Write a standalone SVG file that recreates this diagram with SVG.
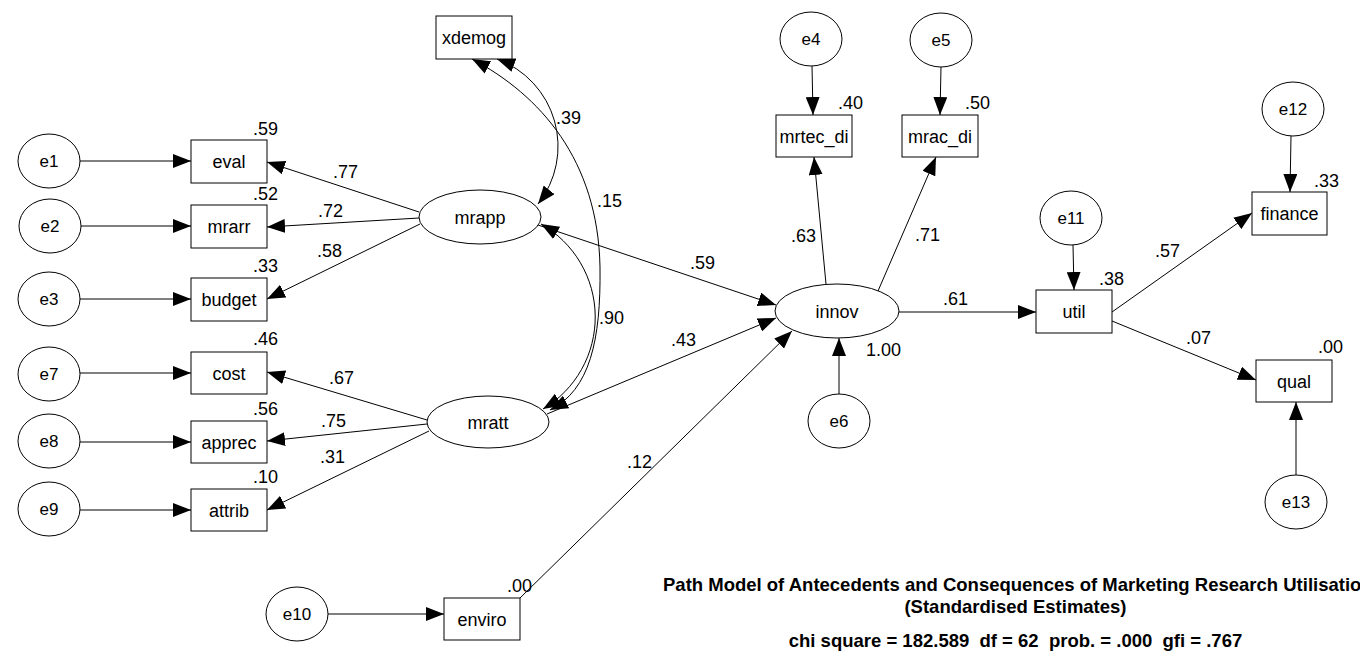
<svg xmlns="http://www.w3.org/2000/svg" width="1360" height="660" viewBox="0 0 1360 660">
<style>
  .box { fill: #fff; stroke: #000; stroke-width: 1; }
  .ell { fill: #fff; stroke: #000; stroke-width: 1; }
  .lbl { font-family: "Liberation Sans", Arial, sans-serif; font-size: 18px; fill: #000; text-anchor: middle; }
  .elbl { font-family: "Liberation Sans", Arial, sans-serif; font-size: 17px; fill: #000; text-anchor: middle; }
  .num { font-family: "Liberation Sans", Arial, sans-serif; font-size: 18px; fill: #000; }
  .title { font-family: "Liberation Sans", Arial, sans-serif; font-size: 18.5px; font-weight: bold; fill: #000; white-space: pre; }
  .con { fill: none; stroke: #000; stroke-width: 1; marker-end: url(#ah); }
  .bi { marker-start: url(#ah); }
</style>
<defs>
  <marker id="ah" viewBox="0 0 18 14" refX="18" refY="7" markerWidth="18" markerHeight="14" markerUnits="userSpaceOnUse" orient="auto-start-reverse">
    <path d="M0,0 L18,7 L0,14 z" fill="#000"/>
  </marker>
</defs>
<rect width="1360" height="660" fill="#fff"/>

<g id="connectors">
  <path class="con" d="M80,161 L191,161"/>
  <path class="con" d="M81,226 L191,226"/>
  <path class="con" d="M80,299 L191,299"/>
  <path class="con" d="M80,373 L191,373"/>
  <path class="con" d="M80,442 L191,442"/>
  <path class="con" d="M80,510 L191,510"/>
  <path class="con" d="M328,614 L444,614"/>
  <path class="con" d="M419,212 L267,162"/>
  <path class="con" d="M419,218 L267,227"/>
  <path class="con" d="M420,224 L267,299"/>
  <path class="con" d="M427,420 L267,372"/>
  <path class="con" d="M427,424 L267,441"/>
  <path class="con" d="M429,431 L267,510"/>
  <path class="con" d="M538,225 L776,305"/>
  <path class="con" d="M547,414 L776,318"/>
  <path class="con" d="M520,598 L792,331"/>
  <path class="con" d="M826,284 L814,157"/>
  <path class="con" d="M878,291 L936,157"/>
  <path class="con" d="M812,66 L813,115"/>
  <path class="con" d="M941,67 L940,115"/>
  <path class="con" d="M839,394 L839,338"/>
  <path class="con" d="M899,312 L1036,312"/>
  <path class="con" d="M1073,245 L1074,290"/>
  <path class="con" d="M1291,136 L1290,192"/>
  <path class="con" d="M1112,312 L1252,213"/>
  <path class="con" d="M1112,321 L1256,380"/>
  <path class="con" d="M1296,475 L1296,402"/>
  <path class="con bi" d="M497,59 A93,93 0 0,1 538,204"/>
  <path class="con bi" d="M472,59 C540,95 598,160 600,267 C601,340 590,390 550,410"/>
  <path class="con bi" d="M541,224 A107,107 0 0,1 543,409"/>
</g>

<g id="xdemog"><rect class="box" x="436" y="16" width="76" height="43"/><text class="lbl" x="474" y="44">xdemog</text></g>
<g id="eval"><rect class="box" x="191" y="140" width="76" height="43"/><text class="lbl" x="229" y="168">eval</text></g>
<g id="mrarr"><rect class="box" x="191" y="205" width="76" height="43"/><text class="lbl" x="229" y="233">mrarr</text></g>
<g id="budget"><rect class="box" x="191" y="278" width="76" height="43"/><text class="lbl" x="229" y="306">budget</text></g>
<g id="cost"><rect class="box" x="191" y="352" width="76" height="42"/><text class="lbl" x="229" y="380">cost</text></g>
<g id="apprec"><rect class="box" x="191" y="421" width="76" height="42"/><text class="lbl" x="229" y="449">apprec</text></g>
<g id="attrib"><rect class="box" x="191" y="489" width="76" height="42"/><text class="lbl" x="229" y="517">attrib</text></g>
<g id="enviro"><rect class="box" x="444" y="598" width="76" height="42"/><text class="lbl" x="482" y="626">enviro</text></g>
<g id="mrtec_di"><rect class="box" x="776" y="115" width="76" height="42"/><text class="lbl" x="814" y="143">mrtec_di</text></g>
<g id="mrac_di"><rect class="box" x="902" y="115" width="76" height="42"/><text class="lbl" x="940" y="143">mrac_di</text></g>
<g id="util"><rect class="box" x="1036" y="290" width="76" height="43"/><text class="lbl" x="1074" y="318">util</text></g>
<g id="finance"><rect class="box" x="1252" y="192" width="75" height="43"/><text class="lbl" x="1289.5" y="220">finance</text></g>
<g id="qual"><rect class="box" x="1256" y="360" width="76" height="42"/><text class="lbl" x="1294" y="388">qual</text></g>

<g id="e1"><ellipse class="ell" cx="49" cy="161" rx="31" ry="27"/><text class="elbl" x="49" y="167">e1</text></g>
<g id="e2"><ellipse class="ell" cx="50" cy="226" rx="31" ry="27"/><text class="elbl" x="50" y="232">e2</text></g>
<g id="e3"><ellipse class="ell" cx="49" cy="299" rx="31" ry="27"/><text class="elbl" x="49" y="305">e3</text></g>
<g id="e7"><ellipse class="ell" cx="49" cy="374" rx="31" ry="27"/><text class="elbl" x="49" y="380">e7</text></g>
<g id="e8"><ellipse class="ell" cx="49" cy="441" rx="31" ry="27"/><text class="elbl" x="49" y="447">e8</text></g>
<g id="e9"><ellipse class="ell" cx="49" cy="509" rx="31" ry="27"/><text class="elbl" x="49" y="515">e9</text></g>
<g id="e10"><ellipse class="ell" cx="297" cy="614" rx="31" ry="27"/><text class="elbl" x="297" y="620">e10</text></g>
<g id="e4"><ellipse class="ell" cx="811" cy="39" rx="31" ry="27"/><text class="elbl" x="811" y="45">e4</text></g>
<g id="e5"><ellipse class="ell" cx="941" cy="40" rx="31" ry="27"/><text class="elbl" x="941" y="46">e5</text></g>
<g id="e6"><ellipse class="ell" cx="839" cy="421" rx="31" ry="27"/><text class="elbl" x="839" y="427">e6</text></g>
<g id="e11"><ellipse class="ell" cx="1071" cy="218" rx="31" ry="27"/><text class="elbl" x="1071" y="224">e11</text></g>
<g id="e12"><ellipse class="ell" cx="1293" cy="109" rx="31" ry="27"/><text class="elbl" x="1293" y="115">e12</text></g>
<g id="e13"><ellipse class="ell" cx="1296" cy="502" rx="31" ry="27"/><text class="elbl" x="1296" y="508">e13</text></g>
<g id="mrapp"><ellipse class="ell" cx="480" cy="217" rx="61" ry="27"/><text class="lbl" x="480" y="224">mrapp</text></g>
<g id="mratt"><ellipse class="ell" cx="488" cy="422" rx="61" ry="26"/><text class="lbl" x="488" y="429">mratt</text></g>
<g id="innov"><ellipse class="ell" cx="837" cy="311" rx="62" ry="27"/><text class="lbl" x="837" y="318">innov</text></g>

<g id="labels">
  <text class="num" x="253" y="135">.59</text>
  <text class="num" x="253" y="200">.52</text>
  <text class="num" x="253" y="272">.33</text>
  <text class="num" x="333" y="178">.77</text>
  <text class="num" x="318" y="217">.72</text>
  <text class="num" x="317" y="257">.58</text>
  <text class="num" x="253" y="345">.46</text>
  <text class="num" x="253" y="415">.56</text>
  <text class="num" x="253" y="483">.10</text>
  <text class="num" x="329" y="384">.67</text>
  <text class="num" x="321" y="427">.75</text>
  <text class="num" x="320" y="463">.31</text>
  <text class="num" x="507" y="592">.00</text>
  <text class="num" x="627" y="468">.12</text>
  <text class="num" x="671" y="346">.43</text>
  <text class="num" x="599" y="324">.90</text>
  <text class="num" x="597" y="207">.15</text>
  <text class="num" x="556" y="124">.39</text>
  <text class="num" x="690" y="269">.59</text>
  <text class="num" x="791" y="242">.63</text>
  <text class="num" x="838" y="109">.40</text>
  <text class="num" x="915" y="241">.71</text>
  <text class="num" x="965" y="109">.50</text>
  <text class="num" x="866" y="356">1.00</text>
  <text class="num" x="943" y="305">.61</text>
  <text class="num" x="1099" y="285">.38</text>
  <text class="num" x="1155" y="257">.57</text>
  <text class="num" x="1314" y="187">.33</text>
  <text class="num" x="1186" y="344">.07</text>
  <text class="num" x="1318" y="353">.00</text>
</g>

<g id="title">
  <text class="title" x="663" y="591">Path Model of Antecedents and Consequences of Marketing Research Utilisatio</text>
  <text class="title" x="1015.5" y="613" text-anchor="middle">(Standardised Estimates)</text>
  <text class="title" x="1015.5" y="647" text-anchor="middle" xml:space="preserve">chi square = 182.589  df = 62  prob. = .000  gfi = .767</text>
</g>
</svg>
